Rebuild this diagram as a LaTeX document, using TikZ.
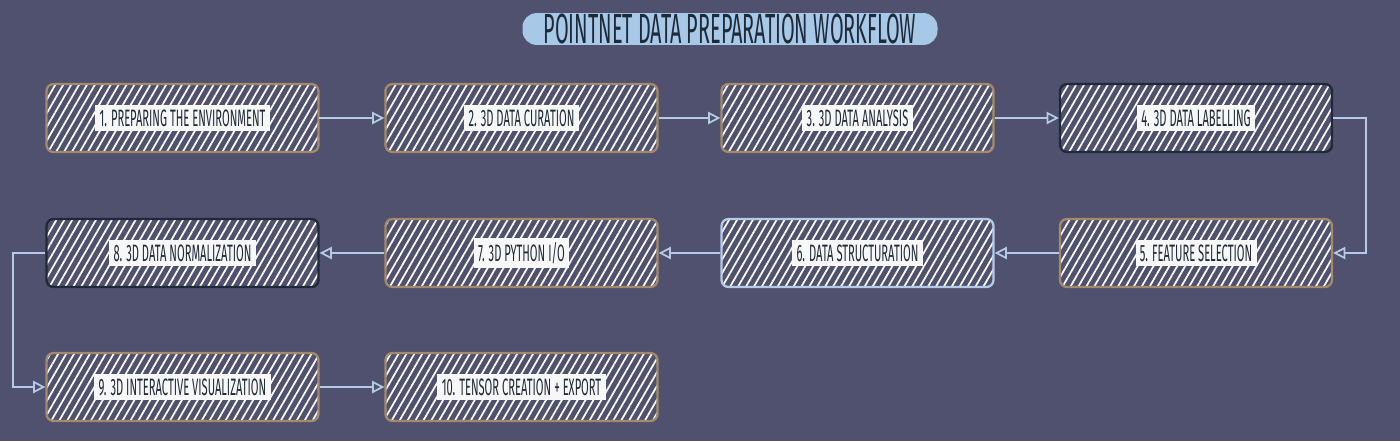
\documentclass[tikz,border=0pt]{standalone}
\usepackage{fontspec}
\setmainfont{Fira Sans}
\newfontfamily\handfont[FakeStretch=0.47]{Fira Sans}
\usetikzlibrary{arrows.meta,patterns.meta}
\definecolor{bg}{HTML}{50506F}
\definecolor{tan}{HTML}{A38A6A}
\definecolor{ink}{HTML}{1E2A38}
\definecolor{sky}{HTML}{B3CBE6}
\definecolor{paper}{HTML}{F7F7F7}
\definecolor{mark}{HTML}{A8C8E8}
\newcommand{\steplabel}[1]{\setlength{\fboxsep}{2.5pt}\colorbox{paper}{\handfont\color{ink}#1}}

\begin{document}
\begin{tikzpicture}[
    stepbox/.style={rectangle,rounded corners=4pt,line width=1.3pt,minimum width=5.44cm,minimum height=1.36cm,
        pattern={Lines[angle=60,distance=3.9pt,line width=1pt]},pattern color=white!92!sky,
        font=\fontsize{13.5}{14}\selectfont},
    link/.style={sky,line width=1pt,-{Triangle[open,length=7pt,width=7pt]}}]
    \fill[bg] (0,0) rectangle (28,-8.82);
    \node[fill=mark,rounded corners=8pt,minimum width=8.3cm,inner ysep=0.5pt,text=ink,
        font=\handfont\fontsize{24}{25}\selectfont] (title) at (14.6,-0.58) {POINTNET DATA PREPARATION WORKFLOW};
    % steps, row by row
    \foreach \n/\x/\y/\c/\t in {b1/3.65/-2.36/tan/{1. PREPARING THE ENVIRONMENT},
            b2/10.43/-2.36/tan/{2. 3D DATA CURATION},
            b3/17.15/-2.36/tan/{3. 3D DATA ANALYSIS},
            b4/23.92/-2.36/ink/{4. 3D DATA LABELLING},
            b5/23.92/-5.06/tan/{5. FEATURE SELECTION},
            b6/17.15/-5.06/sky/{6. DATA STRUCTURATION},
            b7/10.43/-5.06/tan/{7. 3D PYTHON I/O},
            b8/3.65/-5.06/ink/{8. 3D DATA NORMALIZATION},
            b9/3.65/-7.74/tan/{9. 3D INTERACTIVE VISUALIZATION},
            b10/10.43/-7.74/tan/{10. TENSOR CREATION + EXPORT}}{
        \node[stepbox,draw=\c] (\n) at (\x,\y) {\steplabel{\t}};
    }
    \foreach \a/\b in {b1/b2,b2/b3,b3/b4,b5/b6,b6/b7,b7/b8,b9/b10}{
        \draw[link] (\a) -- (\b);
    }
    \draw[link] (b4.east) -- ++(0.66,0) |- (b5.east);
    \draw[link] (b8.west) -- ++(-0.64,0) |- (b9.west);
\end{tikzpicture}
\end{document}
